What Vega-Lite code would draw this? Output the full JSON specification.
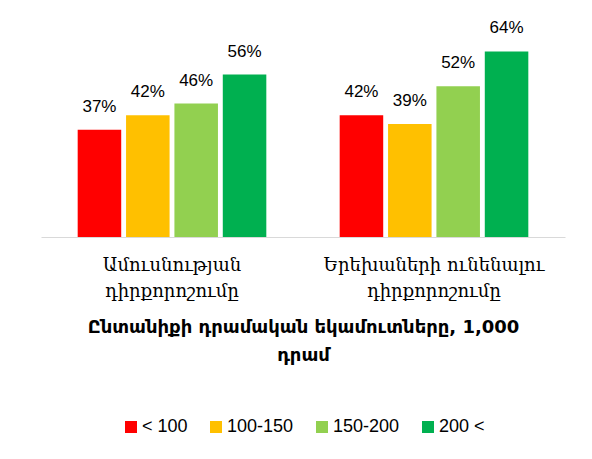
{
  "$schema": "https://vega.github.io/schema/vega-lite/v6.json",
  "width": 524,
  "height": 203,
  "autosize": "none",
  "padding": {"left": 41, "top": 34, "right": 27, "bottom": 222},
  "background": "white",
  "config": {"view": {"stroke": null}},
  "data": {
    "values": [
      {"cat": "Ամուսնության|դիրքորոշումը", "grp": "< 100", "v": 0.37},
      {"cat": "Ամուսնության|դիրքորոշումը", "grp": "100-150", "v": 0.42},
      {"cat": "Ամուսնության|դիրքորոշումը", "grp": "150-200", "v": 0.46},
      {"cat": "Ամուսնության|դիրքորոշումը", "grp": "200 <", "v": 0.56},
      {"cat": "Երեխաների ունենալու|դիրքորոշումը", "grp": "< 100", "v": 0.42},
      {"cat": "Երեխաների ունենալու|դիրքորոշումը", "grp": "100-150", "v": 0.39},
      {"cat": "Երեխաների ունենալու|դիրքորոշումը", "grp": "150-200", "v": 0.52},
      {"cat": "Երեխաների ունենալու|դիրքորոշումը", "grp": "200 <", "v": 0.64}
    ]
  },
  "encoding": {
    "x": {
      "field": "cat",
      "type": "nominal",
      "sort": null,
      "scale": {"paddingInner": 0.28, "paddingOuter": 0.14},
      "axis": {
        "labelExpr": "split(datum.label, '|')",
        "labelAngle": 0,
        "labelLimit": 0,
        "labelFont": "DejaVu Serif",
        "labelFontSize": 18,
        "labelColor": "#000000",
        "labelLineHeight": 26,
        "labelPadding": 19,
        "ticks": false,
        "domainColor": "#d9d9d9",
        "domainWidth": 1,
        "title": ["Ընտանիքի դրամական  եկամուտները, 1,000", "դրամ"],
        "titleFont": "DejaVu Sans",
        "titleFontSize": 18,
        "titleFontWeight": "bold",
        "titleColor": "#000000",
        "titleLineHeight": 28,
        "titlePadding": 18,
        "titleLimit": 0
      }
    },
    "xOffset": {
      "field": "grp",
      "type": "nominal",
      "sort": ["< 100", "100-150", "150-200", "200 <"],
      "scale": {"paddingInner": 0.1}
    },
    "y": {
      "field": "v",
      "type": "quantitative",
      "scale": {"domain": [0, 0.7]},
      "axis": null
    }
  },
  "layer": [
    {
      "mark": {"type": "bar"},
      "encoding": {
        "color": {
          "field": "grp",
          "type": "nominal",
          "sort": ["< 100", "100-150", "150-200", "200 <"],
          "scale": {
            "domain": ["< 100", "100-150", "150-200", "200 <"],
            "range": ["#FF0000", "#FFC000", "#92D050", "#00B050"]
          },
          "legend": {
            "title": null,
            "orient": "none",
            "legendX": 81,
            "legendY": 384,
            "direction": "horizontal",
            "symbolType": "square",
            "symbolSize": 144,
            "symbolStrokeWidth": 0,
            "labelFont": "Liberation Sans",
            "labelFontSize": 18,
            "labelColor": "#000000",
            "columnPadding": 19,
            "labelOffset": 2
          }
        }
      }
    },
    {
      "mark": {"type": "text", "baseline": "bottom", "dy": -14, "font": "Liberation Sans", "fontSize": 17, "color": "#000000"},
      "encoding": {
        "text": {"field": "v", "type": "quantitative", "format": ".0%"}
      }
    }
  ]
}
